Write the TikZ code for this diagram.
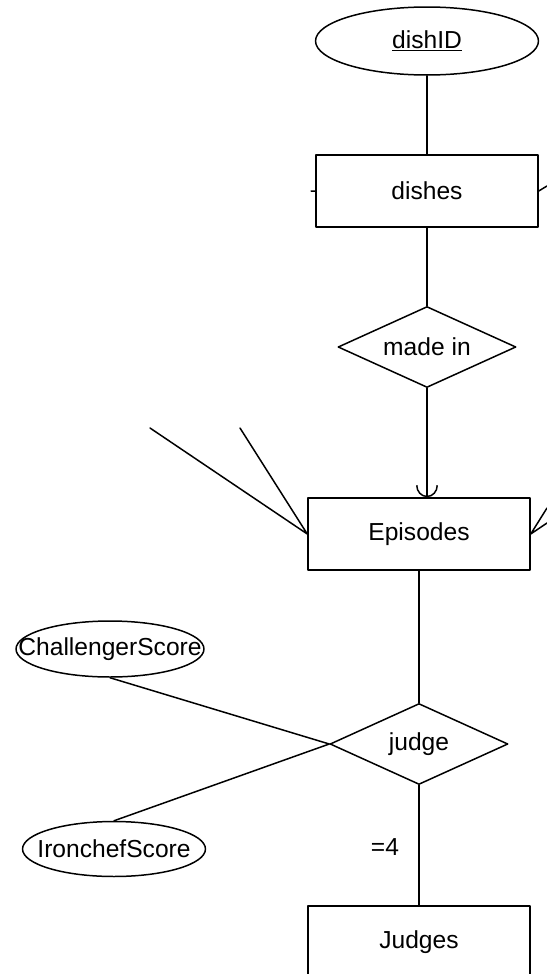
\documentclass[tikz,border=0pt]{standalone}
\usepackage{fontspec}
\setmainfont{Liberation Sans}
\usetikzlibrary{shapes.geometric,arrows.meta}
\begin{document}
\begin{tikzpicture}[x=0.02cm,y=-0.02cm,line join=round,line cap=round,line width=0.85pt,
	every node/.style={font=\fontsize{14}{16}\selectfont},
	entity/.style={draw,rectangle,minimum width=4.44cm,minimum height=1.44cm,inner sep=0pt},
	attrib/.style={draw,ellipse,inner sep=0pt},
	relation/.style={draw,diamond,aspect=2.2,inner sep=0pt,minimum width=3.56cm,minimum height=1.62cm}]
		\useasboundingbox (0,0) rectangle (547,974);
		\clip (0,0) rectangle (547,974);
		% entities and relations
		\node[attrib,minimum width=4.46cm,minimum height=1.36cm] (dishid) at (427,41) {\underline{dishID}};
		\node[entity] (dishes) at (427,191) {dishes};
		\node[relation] (madein) at (427,347) {made in};
		\node[entity] (episodes) at (419,534) {Episodes};
		\node[relation] (judge) at (419,744) {judge};
		\node[entity] (judges) at (419,942) {Judges};
		\node[attrib,minimum width=3.76cm,minimum height=1.12cm,label=center:ChallengerScore] (cscore) at (110,649) {};
		\node[attrib,minimum width=3.66cm,minimum height=1.1cm,label=center:IronchefScore] (iscore) at (114,849) {};
		\node (four) at (385,847) {=4};
		% loose ends leaving the frame
		\coordinate (l1) at (150,428); \coordinate (l2) at (240,428);
		\coordinate (r1) at (547,508); \coordinate (r2) at (547,523);
		\coordinate (d1) at (547,186); \coordinate (d0) at (311,191);
		\draw (dishid) -- (dishes);
		\draw (dishes) -- (madein);
		\draw[-{Arc Barb[width=0.44cm,length=0.24cm]}] (madein.south) -- (madein.south |- episodes.north);
		\draw (episodes) -- (judge);
		\draw (judge) -- (judges);
		\draw (cscore.south) -- (judge.west);
		\draw (iscore.north) -- (judge.west);
		\draw (episodes.west) -- (l1) (episodes.west) -- (l2);
		\draw (episodes.east) -- (r1) (episodes.east) -- (r2);
		\draw (dishes.east) -- (d1) (dishes.west) -- (d0);
\end{tikzpicture}
\end{document}
